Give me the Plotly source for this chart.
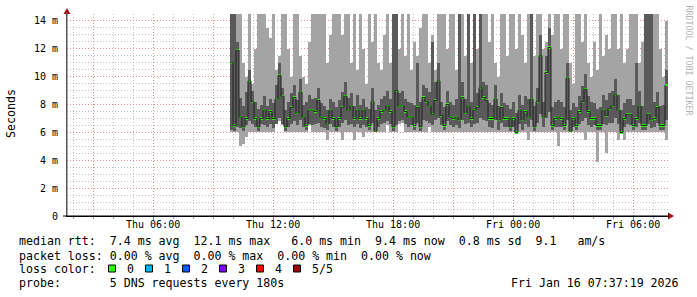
import plotly.graph_objects as go
import pandas as pd
import numpy as np

# ---------------- data (ms), one ping round every 9 min (downsampled) ----------------
START = "2026-01-15 09:51"
STEP = "9min"

median = [
    11.0, 6.5, 11.9, 7.1, 6.4, 7.0, 9.7, 8.2, 7.0, 6.4,
    7.0, 7.6, 7.0, 7.5, 7.0, 8.4, 10.1, 8.6, 6.4, 7.0,
    7.8, 8.5, 7.4, 8.9, 7.1, 6.5, 7.6, 7.6, 7.5, 8.3,
    7.1, 7.0, 6.6, 7.6, 7.0, 6.4, 7.0, 7.8, 8.6, 7.6,
    7.9, 7.0, 7.6, 7.0, 7.6, 7.0, 6.5, 8.2, 6.1, 7.0,
    7.5, 7.6, 7.9, 7.5, 6.4, 9.0, 7.9, 7.9, 7.5, 7.1,
    7.1, 6.5, 7.8, 6.4, 8.5, 8.2, 7.9, 7.3, 8.3, 9.7,
    7.2, 6.5, 8.0, 7.1, 7.0, 7.1, 6.9, 8.5, 7.4, 7.9,
    7.0, 7.6, 7.8, 9.2, 8.5, 8.3, 7.0, 7.0, 8.4, 6.9,
    7.8, 7.0, 7.0, 6.4, 7.0, 6.0, 7.6, 6.9, 7.5, 7.1,
    8.4, 6.4, 8.2, 11.5, 7.1, 10.3, 12.1, 6.5, 7.0, 7.1,
    7.0, 6.5, 9.9, 6.1, 7.0, 6.5, 7.5, 8.2, 9.1, 7.5,
    7.0, 7.0, 6.5, 6.5, 7.6, 7.2, 7.7, 7.9, 8.7, 7.6,
    6.0, 7.0, 7.3, 7.3, 6.5, 7.0, 7.9, 6.5, 6.5, 7.3,
    6.9, 7.0, 7.8, 6.5, 6.5, 9.4,
]

ping_min = [
    6.0, 6.0, 6.0, 5.0, 5.2, 5.7, 6.0, 6.0, 6.0, 6.0,
    6.0, 6.0, 6.0, 6.0, 6.0, 6.6, 6.8, 6.5, 6.0, 6.0,
    6.0, 6.0, 6.0, 6.0, 6.0, 6.0, 6.5, 6.0, 6.0, 6.0,
    6.0, 6.0, 5.45, 6.0, 6.0, 6.0, 6.0, 5.45, 6.0, 6.0,
    6.0, 5.45, 6.0, 6.0, 5.7, 6.0, 6.0, 6.0, 6.0, 6.0,
    6.0, 6.0, 6.5, 6.0, 6.0, 6.0, 6.6, 6.7, 6.0, 6.0,
    6.0, 6.0, 6.0, 6.0, 6.0, 6.0, 6.4, 6.0, 6.0, 6.0,
    6.0, 6.0, 6.0, 6.0, 6.0, 6.0, 6.0, 6.0, 6.0, 6.0,
    6.0, 6.0, 6.0, 6.0, 6.0, 6.0, 6.0, 6.0, 6.0, 6.0,
    6.0, 6.0, 6.0, 6.0, 6.0, 6.0, 6.0, 6.0, 6.0, 5.45,
    6.0, 6.0, 6.0, 6.0, 6.0, 6.0, 6.0, 6.0, 6.0, 5.0,
    6.0, 6.0, 6.0, 6.0, 6.0, 6.0, 6.0, 6.0, 5.45, 6.0,
    6.0, 6.0, 3.9, 6.0, 6.0, 4.5, 6.0, 6.0, 6.0, 5.45,
    6.0, 5.45, 6.0, 6.0, 6.0, 6.0, 6.0, 6.0, 6.0, 6.0,
    6.0, 6.0, 6.0, 6.0, 6.0, 5.45,
]

ping_low = [
    6.2, 6.1, 6.4, 6.3, 6.1, 6.5, 6.8, 6.6, 6.4, 6.1,
    6.6, 6.5, 6.4, 6.6, 6.3, 6.6, 7.0, 6.6, 6.1, 6.4,
    6.6, 6.8, 6.5, 6.9, 6.4, 6.2, 6.6, 6.5, 6.6, 6.7,
    6.4, 6.3, 6.2, 6.6, 6.4, 6.1, 6.4, 6.7, 6.9, 6.5,
    6.6, 6.4, 6.6, 6.3, 6.5, 6.4, 6.2, 6.7, 6.0, 6.4,
    6.6, 6.7, 6.8, 6.6, 6.1, 6.5, 6.8, 6.9, 6.6, 6.4,
    6.5, 6.2, 6.7, 6.1, 6.9, 6.8, 6.7, 6.5, 6.9, 7.0,
    6.5, 6.2, 6.8, 6.5, 6.4, 6.5, 6.3, 6.9, 6.6, 6.7,
    6.4, 6.6, 6.7, 7.0, 6.9, 6.8, 6.4, 6.3, 6.9, 6.2,
    6.7, 6.4, 6.4, 6.1, 6.4, 6.0, 6.6, 6.2, 6.6, 6.4,
    6.9, 6.1, 6.7, 7.3, 6.4, 7.0, 7.5, 6.2, 6.4, 6.4,
    6.4, 6.2, 6.9, 6.0, 6.4, 6.2, 6.6, 6.8, 7.0, 6.5,
    6.4, 6.5, 6.2, 6.2, 6.6, 6.5, 6.7, 6.7, 7.0, 6.6,
    6.0, 6.4, 6.6, 6.5, 6.2, 6.4, 6.7, 6.2, 6.2, 6.6,
    6.3, 6.4, 6.7, 6.2, 6.2, 6.9,
]

ping_high = [
    20, 20, 12.5, 8.5, 7.9, 8.9, 10.5, 9.0, 8.2, 7.7,
    8.0, 8.6, 7.9, 8.4, 8.1, 9.4, 11.0, 9.2, 7.6, 8.2,
    8.8, 9.4, 8.3, 9.8, 8.0, 8.2, 8.7, 8.4, 8.5, 9.2,
    8.1, 7.9, 7.6, 8.4, 8.2, 7.8, 8.3, 8.9, 9.6, 8.5,
    8.8, 7.9, 8.7, 8.0, 8.4, 7.8, 7.7, 9.2, 7.6, 8.0,
    8.4, 8.6, 9.0, 8.4, 20, 20, 8.8, 9.0, 8.4, 8.2,
    8.1, 8.0, 11.0, 8.2, 9.4, 9.2, 8.9, 12.5, 9.6, 11.0,
    8.2, 7.8, 9.0, 8.2, 8.0, 8.4, 20, 9.6, 8.4, 20,
    8.2, 20, 8.8, 20, 9.6, 9.4, 8.1, 8.0, 9.4, 7.9,
    8.8, 8.1, 8.0, 7.7, 8.2, 7.4, 8.7, 8.0, 8.6, 8.4,
    20, 7.9, 9.2, 13.0, 8.2, 11.5, 13.5, 7.8, 8.2, 8.3,
    8.2, 7.8, 11.0, 7.6, 8.1, 7.8, 8.6, 9.3, 10.2, 8.6,
    8.2, 8.1, 7.7, 7.8, 8.7, 8.3, 8.8, 9.0, 9.8, 8.7,
    7.6, 8.1, 8.4, 8.4, 8.0, 11.0, 9.0, 7.9, 20, 20,
    20, 8.2, 8.9, 7.9, 8.0, 10.5,
]

ping_max = [
    20, 20, 20, 20, 11.0, 10.0, 20, 9.5, 12.0, 20,
    20, 20, 13.5, 12.8, 20, 10.5, 11.5, 20, 20, 12.0,
    10.0, 20, 20, 11.5, 10.0, 9.5, 12.5, 20, 20, 20,
    20, 20, 11.0, 13.0, 20, 20, 20, 13.0, 20, 20,
    11.0, 20, 10.5, 20, 12.0, 9.5, 20, 12.5, 20, 11.0,
    10.5, 13.0, 20, 11.0, 20, 20, 12.0, 20, 11.5, 20,
    10.5, 12.5, 11.5, 13.5, 20, 20, 11.0, 13.0, 10.5, 20,
    20, 20, 12.0, 20, 20, 10.5, 20, 20, 11.5, 20,
    11.0, 20, 12.0, 20, 20, 20, 12.5, 20, 11.0, 10.0,
    20, 20, 11.5, 20, 20, 12.0, 20, 13.0, 11.0, 20,
    20, 11.5, 20, 20, 12.0, 12.5, 20, 13.0, 20, 20,
    12.0, 20, 20, 11.0, 9.5, 20, 20, 12.5, 20, 11.0,
    10.0, 12.5, 10.5, 20, 11.5, 13.0, 12.0, 20, 20, 12.0,
    20, 11.0, 12.0, 20, 20, 20, 11.0, 12.5, 20, 20,
    20, 20, 20, 12.0, 10.0, 14.0,
]

y_tickvals = [0, 2, 4, 6, 8, 10, 12, 14]
y_ticktext = ["0", "2 m", "4 m", "6 m", "8 m", "10 m", "12 m", "14 m"]
x_tickvals = ["2026-01-15 03:00", "2026-01-15 06:00", "2026-01-15 09:00", "2026-01-15 12:00",
              "2026-01-15 15:00", "2026-01-15 18:00", "2026-01-15 21:00", "2026-01-16 00:00",
              "2026-01-16 03:00", "2026-01-16 06:00"]
x_ticktext = ["", "Thu 06:00", "", "Thu 12:00", "", "Thu 18:00", "", "Fri 00:00", "", "Fri 06:00"]

legend_lines = [
    "median rtt:  7.4 ms avg  12.1 ms max   6.0 ms min  9.4 ms now  0.8 ms sd  9.1   am/s",
    "packet loss: 0.00 % avg  0.00 % max  0.00 % min  0.00 % now",
    "loss color:",
    "probe:       5 DNS requests every 180s",
]
loss_labels = ["0", "1", "2", "3", "4", "5/5"]
loss_colors = ["#26ff00", "#00b8ff", "#0059ff", "#7e00ff", "#ff0000", "#a10000"]
timestamp = "Fri Jan 16 07:37:19 2026"

# ---------------- geometry ----------------
W, H = 697, 297
L, R, T, B = 67, 668, 14, 216
MONO = "DejaVu Sans Mono"


def px(x):
    return (x - L) / (R - L)


def py(y):
    return (B - y) / (B - T)


times = pd.date_range(START, periods=len(median), freq=STEP)
step_ms = pd.Timedelta(STEP).total_seconds() * 1000

med = np.array(median)
p1 = np.array(ping_min)
p2 = np.array(ping_low)
p4 = np.array(ping_high)
p5 = np.array(ping_max)

fig = go.Figure()
fig.add_trace(go.Bar(x=times, base=p1, y=p5 - p1, width=step_ms, offset=0,
                     marker=dict(color="#a4a4a4", line=dict(width=0)), hoverinfo="skip"))
fig.add_trace(go.Bar(x=times, base=p2, y=p4 - p2, width=step_ms, offset=0,
                     marker=dict(color="#5a5a5a", line=dict(width=0)), hoverinfo="skip"))
fig.add_trace(go.Scatter(x=times, y=med, mode="lines", line=dict(color="#202020", width=1, shape="hv"),
                         hoverinfo="skip"))
fig.add_trace(go.Bar(x=times, base=med - 0.08, y=np.full(len(med), 0.16), width=step_ms, offset=0,
                     marker=dict(color=loss_colors[0], line=dict(width=0)), hoverinfo="skip"))

grid_major = "rgba(230,120,120,0.75)"
grid_minor = "rgba(150,150,150,0.55)"

fig.update_layout(
    width=W, height=H,
    margin=dict(l=L, r=W - R, t=T, b=H - B, pad=0),
    paper_bgcolor="white", plot_bgcolor="white",
    showlegend=False, barmode="overlay", bargap=0,
    font=dict(family=MONO, size=10, color="black"),
    xaxis=dict(
        type="date",
        range=["2026-01-15 01:42", "2026-01-16 07:45"],
        tickmode="array", tickvals=x_tickvals, ticktext=x_ticktext,
        showticklabels=False,
        showgrid=True, gridcolor=grid_major, griddash="1px,2px", gridwidth=1,
        ticks="outside", ticklen=3, tickcolor="#c06060",
        showline=True, linecolor="black", linewidth=1,
        zeroline=False, fixedrange=True,
        minor=dict(dtick=3600000, tick0="2026-01-15 00:00", showgrid=True, gridcolor=grid_minor,
                   griddash="1px,2px", ticks="outside", ticklen=2, tickcolor="#999"),
    ),
    yaxis=dict(
        range=[0, 14.5],
        tickmode="array", tickvals=y_tickvals, ticktext=y_ticktext,
        showgrid=True, gridcolor=grid_major, griddash="1px,2px", gridwidth=1,
        ticks="", ticklabelstandoff=6,
        tickfont=dict(family=MONO, size=10),
        showline=True, linecolor="#555", linewidth=1,
        zeroline=False, fixedrange=True,
        minor=dict(dtick=0.5, tick0=0, showgrid=True, gridcolor=grid_minor, griddash="1px,2px"),
    ),
)

ann = []
# x tick labels placed like rrdtool (just under the axis)
for tv, tt in zip(x_tickvals, x_ticktext):
    if tt:
        ann.append(dict(text=tt.replace(" ", "&nbsp;"), x=tv, y=py(224.5), xref="x", yref="paper",
                        showarrow=False, xanchor="center", yanchor="middle",
                        font=dict(family=MONO, size=10, color="black")))
ann.append(dict(text="Seconds", x=px(11), y=py(114), xref="paper", yref="paper", textangle=-90,
                showarrow=False, font=dict(family=MONO, size=11.6, color="black"),
                xanchor="center", yanchor="middle"))
ann.append(dict(text="RRDTOOL / TOBI OETIKER", x=px(688.5), y=py(60), xref="paper", yref="paper",
                textangle=90, showarrow=False, font=dict(family=MONO, size=8.3, color="#b4b4b4"),
                xanchor="center", yanchor="middle"))
line_y = [241, 255.5, 268.5, 283]
for txt, yy in zip(legend_lines, line_y):
    ann.append(dict(text=txt.replace(" ", "&nbsp;"), x=px(16.5), y=py(yy), xref="paper", yref="paper",
                    showarrow=False, xanchor="left", yanchor="middle",
                    font=dict(family=MONO, size=11.6, color="black")))
ann.append(dict(text=timestamp.replace(" ", "&nbsp;"), x=px(681), y=py(283), xref="paper", yref="paper",
                showarrow=False, xanchor="right", yanchor="middle",
                font=dict(family=MONO, size=11.6, color="black")))

box_x = [108.5, 145.5, 182.5, 219.5, 256.5, 293.5]
shapes = []
for bx, lab, col in zip(box_x, loss_labels, loss_colors):
    shapes.append(dict(type="rect", xref="paper", yref="paper", x0=px(bx), x1=px(bx + 7),
                       y0=py(272), y1=py(265), fillcolor=col, line=dict(color="black", width=1)))
    ann.append(dict(text=lab, x=px(bx + 16.5), y=py(268.5), xref="paper", yref="paper",
                    showarrow=False, xanchor="left", yanchor="middle",
                    font=dict(family=MONO, size=11.6, color="black")))

# axis arrows
arrow_col = "#a01010"
shapes.append(dict(type="path", xref="paper", yref="paper",
                   path=f"M {px(668)} {py(212.5)} L {px(674)} {py(216)} L {px(668)} {py(219.5)} Z",
                   fillcolor=arrow_col, line=dict(width=0)))
shapes.append(dict(type="path", xref="paper", yref="paper",
                   path=f"M {px(63.5)} {py(14)} L {px(67)} {py(8)} L {px(70.5)} {py(14)} Z",
                   fillcolor=arrow_col, line=dict(width=0)))
shapes.append(dict(type="line", xref="paper", yref="paper", x0=px(67), x1=px(67), y0=py(216), y1=py(12),
                   line=dict(color="#555", width=1)))
shapes.append(dict(type="line", xref="paper", yref="paper", x0=px(63), x1=px(669), y0=py(216), y1=py(216),
                   line=dict(color="black", width=1)))

fig.update_layout(annotations=ann, shapes=shapes)
fig.write_html("out.html")
